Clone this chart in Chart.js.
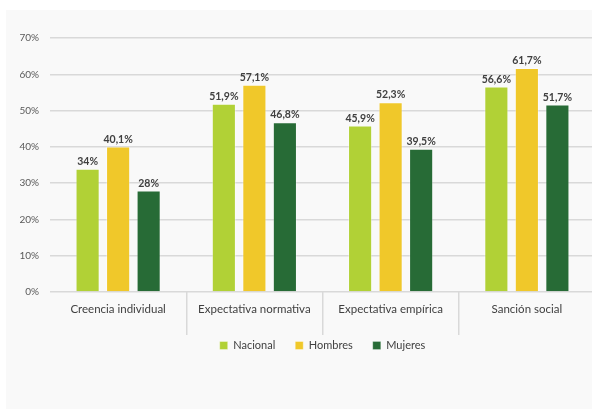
<!DOCTYPE html>
<html>
<head>
<meta charset="utf-8">
<script src="https://cdn.jsdelivr.net/npm/chart.js@4.4.1/dist/chart.umd.min.js"></script>
<style>
  html, body { margin: 0; padding: 0; background: #ffffff; width: 592px; height: 409px; overflow: hidden; }
  #panel { position: absolute; left: 6px; top: 10px; width: 600px; height: 399px; background: #f9f9f9; }
  #wrap { position: absolute; left: 0; top: 0; width: 600px; height: 409px; }
</style>
</head>
<body>
<div id="panel"></div>
<div id="wrap"><canvas id="chart" width="600" height="409"></canvas></div>
<script>
// --- datos ---
const categorias = ['Creencia individual', 'Expectativa normativa', 'Expectativa empírica', 'Sanción social'];
const nacional = [34, 51.9, 45.9, 56.6];
const hombres  = [40.1, 57.1, 52.3, 61.7];
const mujeres  = [28, 46.8, 39.5, 51.7];
const ticksY   = [0, 10, 20, 30, 40, 50, 60, 70];

const FONT = 'Lato, "Liberation Sans", sans-serif';

// formato 51,9%
function fmt(v) {
    return String(v).replace('.', ',') + '%';
}

// etiquetas encima de cada barra
const valueLabels = {
    id: 'valueLabels',
    afterDatasetsDraw(chart) {
        const ctx = chart.ctx;
        ctx.save();
        ctx.font = 'bold 10.5px ' + FONT;
        ctx.fillStyle = '#404040';
        ctx.textAlign = 'center';
        ctx.textBaseline = 'bottom';
        chart.data.datasets.forEach((ds, i) => {
            chart.getDatasetMeta(i).data.forEach((bar, j) => {
                ctx.fillText(fmt(ds.data[j]), bar.x, bar.y - 2);
            });
        });
        ctx.restore();
    }
};

const grid = '#d9d9d9';

new Chart(document.getElementById('chart'), {
    type: 'bar',
    data: {
        labels: categorias,
        datasets: [
            { label: 'Nacional', data: nacional, backgroundColor: '#b1d136', borderColor: 'rgba(255,255,255,0.35)', borderWidth: 1 },
            { label: 'Hombres',  data: hombres,  backgroundColor: '#f0c82a', borderColor: 'rgba(255,255,255,0.35)', borderWidth: 1 },
            { label: 'Mujeres',  data: mujeres,  backgroundColor: '#276b36', borderColor: 'rgba(255,255,255,0.25)', borderWidth: 1 }
        ]
    },
    options: {
        responsive: false,
        animation: false,
        categoryPercentage: 0.672,
        barPercentage: 0.79,
        layout: { padding: { left: 0, right: 5, top: 38, bottom: 48 } },
        plugins: {
            tooltip: { enabled: false },
            legend: {
                position: 'bottom',
                fullSize: false,
                labels: {
                    boxWidth: 8, boxHeight: 8, padding: 20,
                    color: '#404040',
                    font: { family: FONT, size: 11 }
                }
            }
        },
        scales: {
            x: {
                offset: true,
                border: { display: false },
                grid: {
                    offset: true,
                    drawOnChartArea: false,
                    drawTicks: true,
                    tickLength: 43,
                    color: ctx => ctx.index === 0 ? 'rgba(0,0,0,0)' : grid,
                    lineWidth: 1.5
                },
                ticks: {
                    padding: -33,
                    color: '#404040',
                    font: { family: FONT, size: 11.5 }
                },
                afterFit: s => { s.height = 28; }
            },
            y: {
                min: 0, max: 70,
                border: { display: false },
                grid: { color: grid, lineWidth: 1.5, drawTicks: false },
                afterBuildTicks: s => { s.ticks = ticksY.map(v => ({ value: v })); },
                ticks: {
                    padding: 11,
                    color: '#595959',
                    font: { family: FONT, size: 10 },
                    callback: v => v + '%'
                },
                afterFit: s => { s.width = 50; }
            }
        }
    },
    plugins: [valueLabels]
});
</script>
</body>
</html>
